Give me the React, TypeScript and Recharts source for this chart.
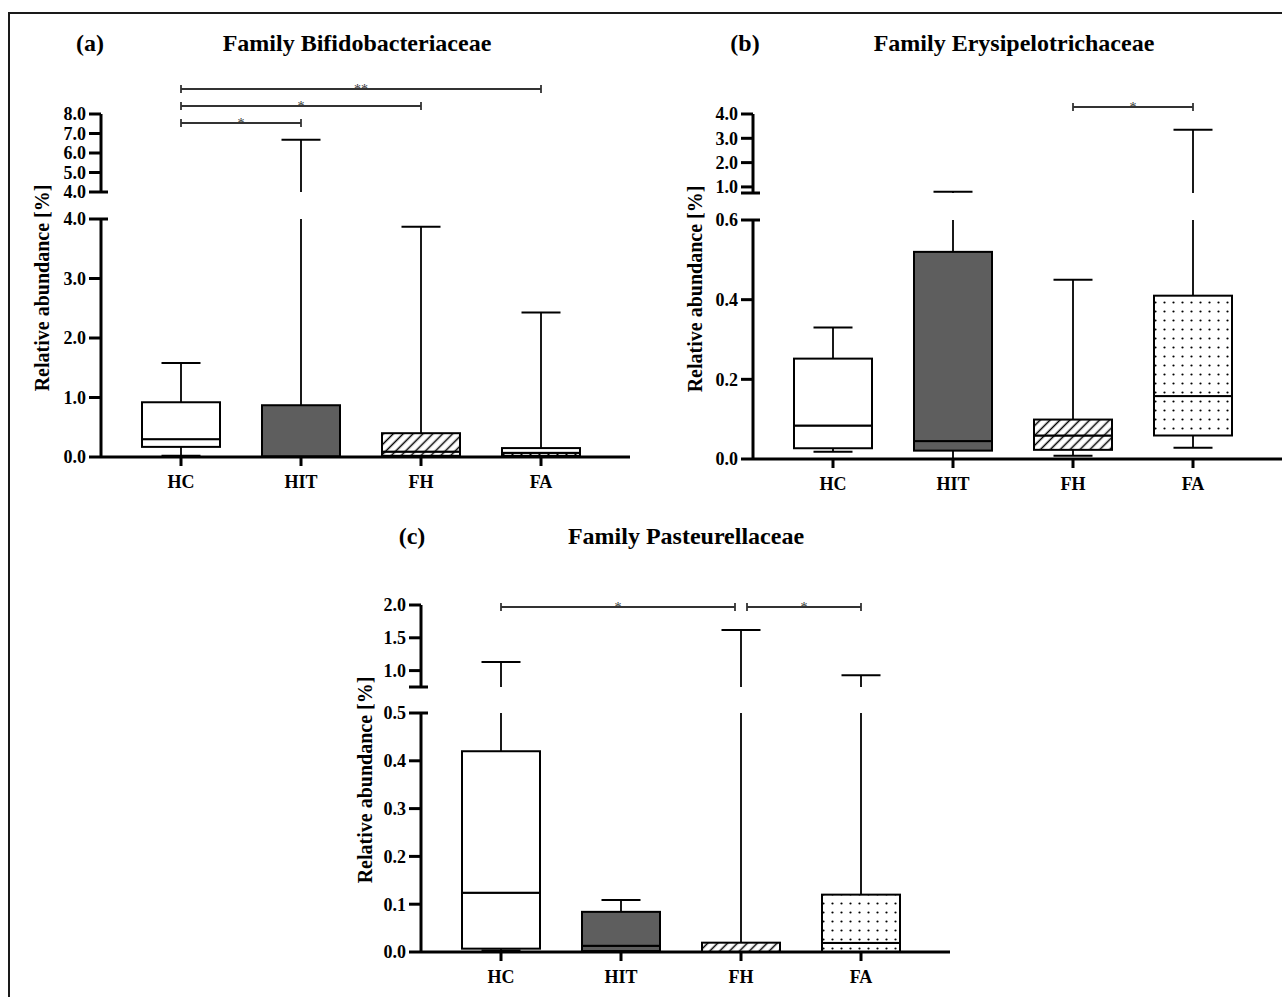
import React from 'react';
import { BarChart, Bar, XAxis, YAxis, ReferenceLine } from 'recharts';

const FONT = '"Liberation Serif", "Times New Roman", serif';

const categories = ['HC', 'HIT', 'FH', 'FA'];
const boxFills = ['#ffffff', '#5e5e5e', 'url(#hatch)', 'url(#dots)'];

// (a) Family Bifidobacteriaceae
const bifMin = [0.02, 0.0, 0.0, 0.0];
const bifQ1 = [0.17, 0.0, 0.02, 0.02];
const bifMedian = [0.3, 0.01, 0.09, 0.07];
const bifQ3 = [0.92, 0.87, 0.4, 0.15];
const bifMax = [1.58, 6.68, 3.87, 2.43];
const bifUpperTicks = [4, 5, 6, 7, 8];
const bifLowerTicks = [0, 1, 2, 3, 4];
const bifBrackets = [
  { from: 'HC', to: 'FA', level: 3, stars: '**' },
  { from: 'HC', to: 'FH', level: 2, stars: '*' },
  { from: 'HC', to: 'HIT', level: 1, stars: '*' },
];

// (b) Family Erysipelotrichaceae
const eryMin = [0.018, 0.0, 0.008, 0.028];
const eryQ1 = [0.027, 0.021, 0.023, 0.059];
const eryMedian = [0.084, 0.045, 0.059, 0.158];
const eryQ3 = [0.252, 0.52, 0.099, 0.41];
const eryMax = [0.33, 0.8, 0.45, 3.35];
const eryUpperTicks = [0.75, 1, 2, 3, 4];
const eryLowerTicks = [0, 0.2, 0.4, 0.6];
const eryBrackets = [{ from: 'FH', to: 'FA', level: 2, stars: '*' }];

// (c) Family Pasteurellaceae
const pasMin = [0.003, 0.0, 0.0, 0.0];
const pasQ1 = [0.007, 0.002, 0.0, 0.0];
const pasMedian = [0.124, 0.013, 0.0, 0.019];
const pasQ3 = [0.42, 0.084, 0.0195, 0.12];
const pasMax = [1.13, 0.109, 1.62, 0.93];
const pasUpperTicks = [0.75, 1, 1.5, 2];
const pasLowerTicks = [0, 0.1, 0.2, 0.3, 0.4, 0.5];
const pasBrackets = [
  { from: 'HC', to: 'FH', level: 2, stars: '*', trimEnd: 6 },
  { from: 'FH', to: 'FA', level: 2, stars: '*', trimStart: 6 },
];

const PLOT_W = 529;
const Y_W = 70;
const TICK_LEN = 12;
const TICK_GAP = 3;
const X_PAD = { left: 20, right: 29 };

type Stats = { min: number[]; q1: number[]; median: number[]; q3: number[]; max: number[] };

function segmentRows(s: Stats, lo: number, hi: number) {
  const clamp = (v: number) => Math.min(hi, Math.max(lo, v));
  return categories.map((name, i) => {
    const mn = clamp(s.min[i]);
    const a = clamp(s.q1[i]);
    const m = clamp(s.median[i]);
    const b = clamp(s.q3[i]);
    const mx = clamp(s.max[i]);
    return {
      name,
      fill: boxFills[i],
      base: mn,
      wLow: a - mn,
      bLow: m - a,
      bHigh: b - m,
      wHigh: mx - b,
      capLow: s.min[i] >= lo && s.min[i] <= hi,
      capHigh: s.max[i] >= lo && s.max[i] <= hi,
      boxIn: s.q3[i] > lo && s.q1[i] < hi,
    };
  });
}

const Empty = () => <g />;

const WhiskerLow = (p: any) => {
  const { x, y, width, height, payload } = p;
  const cx = x + width / 2;
  return (
    <g>
      {height > 0 && <line x1={cx} x2={cx} y1={y} y2={y + height} stroke="#000" strokeWidth={1.8} />}
      {payload.capLow && (
        <line x1={x + width / 4} x2={x + (3 * width) / 4} y1={y + height} y2={y + height} stroke="#000" strokeWidth={2} />
      )}
    </g>
  );
};

const WhiskerHigh = (p: any) => {
  const { x, y, width, height, payload } = p;
  const cx = x + width / 2;
  return (
    <g>
      {height > 0 && <line x1={cx} x2={cx} y1={y} y2={y + height} stroke="#000" strokeWidth={1.8} />}
      {payload.capHigh && (
        <line x1={x + width / 4} x2={x + (3 * width) / 4} y1={y} y2={y} stroke="#000" strokeWidth={2} />
      )}
    </g>
  );
};

const BoxPart = (p: any) => {
  const { x, y, width, height, payload } = p;
  if (!payload.boxIn) return <g />;
  return <rect x={x} y={y} width={width} height={Math.max(0, height)} fill={payload.fill} stroke="#000" strokeWidth={2} />;
};

function AxisTick(props: any) {
  const { x, y, payload, unlabeled, breakAt } = props;
  const v = payload.value;
  const axisX = x + TICK_GAP + TICK_LEN;
  return (
    <g>
      <line x1={axisX - TICK_LEN} x2={axisX + (v === breakAt ? 7 : 0)} y1={y} y2={y} stroke="#000" strokeWidth={3} />
      {!unlabeled.includes(v) && (
        <text x={x} y={y} dy="0.35em" textAnchor="end" fontFamily={FONT} fontWeight="bold" fontSize={18} fill="#000">
          {v.toFixed(1)}
        </text>
      )}
    </g>
  );
}

function Segment({ axisX, top, bottom, lo, hi, ticks, unlabeled, breakAt, stats, showX }: any) {
  const MT = 12;
  const MB = 12;
  const XH = 42;
  const plotH = bottom - top;
  const height = MT + plotH + (showX ? XH : MB);
  const rows = segmentRows(stats, lo, hi);
  return (
    <div style={{ position: 'absolute', left: axisX - Y_W, top: top - MT }}>
      <BarChart
        width={Y_W + PLOT_W + 6}
        height={height}
        data={rows}
        margin={{ top: MT, right: 6, bottom: showX ? 0 : MB, left: 0 }}
        barSize={78}
      >
        <XAxis
          dataKey="name"
          hide={!showX}
          padding={X_PAD}
          height={XH}
          interval={0}
          axisLine={{ stroke: '#000', strokeWidth: 3 }}
          tickLine={{ stroke: '#000', strokeWidth: 3 }}
          tickSize={9}
          tickMargin={9}
          tick={{ fill: '#000', fontSize: 18, fontWeight: 'bold', fontFamily: FONT }}
        />
        <YAxis
          type="number"
          domain={[lo, hi]}
          ticks={ticks}
          allowDataOverflow
          interval={0}
          width={Y_W}
          axisLine={{ stroke: '#000', strokeWidth: 3 }}
          tickLine={false}
          tickSize={TICK_LEN}
          tickMargin={TICK_GAP}
          tick={(p: any) => <AxisTick {...p} unlabeled={unlabeled} breakAt={breakAt} />}
        />
        <Bar stackId="box" dataKey="base" shape={Empty} isAnimationActive={false} />
        <Bar stackId="box" dataKey="wLow" shape={WhiskerLow} isAnimationActive={false} />
        <Bar stackId="box" dataKey="bLow" shape={BoxPart} isAnimationActive={false} />
        <Bar stackId="box" dataKey="bHigh" shape={BoxPart} isAnimationActive={false} />
        <Bar stackId="box" dataKey="wHigh" shape={WhiskerHigh} isAnimationActive={false} />
      </BarChart>
    </div>
  );
}

const BracketShape = (p: any) => {
  const { x1, x2, y1, stars, trimStart = 0, trimEnd = 0 } = p;
  const a = x1 + trimStart;
  const b = x2 - trimEnd;
  return (
    <g>
      <line x1={a} x2={b} y1={y1} y2={y1} stroke="#333" strokeWidth={1.8} />
      <line x1={a} x2={a} y1={y1 - 4} y2={y1 + 4} stroke="#333" strokeWidth={1.8} />
      <line x1={b} x2={b} y1={y1 - 4} y2={y1 + 4} stroke="#333" strokeWidth={1.8} />
      <text x={(a + b) / 2} y={y1 + 5} textAnchor="middle" fontFamily={FONT} fontSize={14} fill="#333">
        {stars}
      </text>
    </g>
  );
};

function Brackets({ axisX, top, items }: any) {
  const rows = categories.map((name) => ({ name, zero: 0 }));
  return (
    <div style={{ position: 'absolute', left: axisX, top }}>
      <BarChart width={PLOT_W} height={68} data={rows} margin={{ top: 0, right: 0, bottom: 0, left: 0 }}>
        <XAxis dataKey="name" hide padding={X_PAD} />
        <YAxis hide type="number" domain={[0, 4]} />
        <Bar dataKey="zero" fill="none" isAnimationActive={false} />
        {items.map((b: any, i: number) => (
          <ReferenceLine
            key={i}
            ifOverflow="visible"
            segment={[{ x: b.from, y: b.level }, { x: b.to, y: b.level }]}
            shape={(p: any) => <BracketShape {...p} stars={b.stars} trimStart={b.trimStart} trimEnd={b.trimEnd} />}
          />
        ))}
      </BarChart>
    </div>
  );
}

const textBase: React.CSSProperties = {
  position: 'absolute',
  fontFamily: FONT,
  fontWeight: 'bold',
  whiteSpace: 'nowrap',
  lineHeight: 1,
  color: '#000',
};

function Panel({ cfg }: any) {
  return (
    <>
      <div style={{ ...textBase, left: cfg.tag[0], top: cfg.tag[1], fontSize: 24, transform: 'translate(-50%, -50%)' }}>{cfg.tagText}</div>
      <div style={{ ...textBase, left: cfg.title[0], top: cfg.title[1], fontSize: 24, transform: 'translate(-50%, -50%)' }}>{cfg.titleText}</div>
      <div style={{ ...textBase, left: cfg.yLabel[0], top: cfg.yLabel[1], fontSize: 20, transform: 'translate(-50%, -50%) rotate(-90deg)' }}>
        Relative abundance [%]
      </div>
      <Brackets axisX={cfg.axisX} top={cfg.bracketTop} items={cfg.brackets} />
      <Segment axisX={cfg.axisX} {...cfg.upper} stats={cfg.stats} showX={false} />
      <Segment axisX={cfg.axisX} {...cfg.lower} stats={cfg.stats} showX />
    </>
  );
}

const panels = [
  {
    tagText: '(a)', titleText: 'Family Bifidobacteriaceae',
    tag: [90, 43], title: [357, 43], yLabel: [42, 288],
    axisX: 101, bracketTop: 72, brackets: bifBrackets,
    stats: { min: bifMin, q1: bifQ1, median: bifMedian, q3: bifQ3, max: bifMax },
    upper: { top: 114, bottom: 192, lo: 4, hi: 8, ticks: bifUpperTicks, unlabeled: [], breakAt: 4 },
    lower: { top: 219, bottom: 457, lo: 0, hi: 4, ticks: bifLowerTicks, unlabeled: [], breakAt: 4 },
  },
  {
    tagText: '(b)', titleText: 'Family Erysipelotrichaceae',
    tag: [745, 43], title: [1014, 43], yLabel: [695, 289],
    axisX: 753, bracketTop: 73, brackets: eryBrackets,
    stats: { min: eryMin, q1: eryQ1, median: eryMedian, q3: eryQ3, max: eryMax },
    upper: { top: 114, bottom: 193, lo: 0.75, hi: 4, ticks: eryUpperTicks, unlabeled: [0.75], breakAt: 0.75 },
    lower: { top: 220, bottom: 459, lo: 0, hi: 0.6, ticks: eryLowerTicks, unlabeled: [], breakAt: 0.6 },
  },
  {
    tagText: '(c)', titleText: 'Family Pasteurellaceae',
    tag: [412, 536], title: [686, 536], yLabel: [365, 780],
    axisX: 421, bracketTop: 573, brackets: pasBrackets,
    stats: { min: pasMin, q1: pasQ1, median: pasMedian, q3: pasQ3, max: pasMax },
    upper: { top: 605, bottom: 687, lo: 0.75, hi: 2, ticks: pasUpperTicks, unlabeled: [0.75], breakAt: 0.75 },
    lower: { top: 713, bottom: 952, lo: 0, hi: 0.5, ticks: pasLowerTicks, unlabeled: [], breakAt: 0.5 },
  },
];

function PatternDefs() {
  return (
    <svg width={0} height={0} style={{ position: 'absolute' }}>
      <defs>
        <pattern id="hatch" patternUnits="userSpaceOnUse" width={7} height={7} patternTransform="rotate(45)">
          <rect width={7} height={7} fill="#fff" />
          <line x1={3.5} y1={0} x2={3.5} y2={7} stroke="#000" strokeWidth={1.5} />
        </pattern>
        <pattern id="dots" patternUnits="userSpaceOnUse" width={9} height={9}>
          <rect width={9} height={9} fill="#fff" />
          <circle cx={4.5} cy={4.5} r={1.1} fill="#000" />
        </pattern>
      </defs>
    </svg>
  );
}

export default function App() {
  return (
    <div style={{ position: 'absolute', left: 0, top: 0, width: 1282, height: 997, background: '#fff', overflow: 'hidden' }}>
      <PatternDefs />
      <div
        style={{
          position: 'absolute', left: 8, top: 12, width: 1300, height: 1000,
          borderTop: '2px solid #1a1a1a', borderLeft: '2px solid #1a1a1a',
        }}
      />
      {panels.map((cfg, i) => (
        <Panel key={i} cfg={cfg} />
      ))}
    </div>
  );
}
